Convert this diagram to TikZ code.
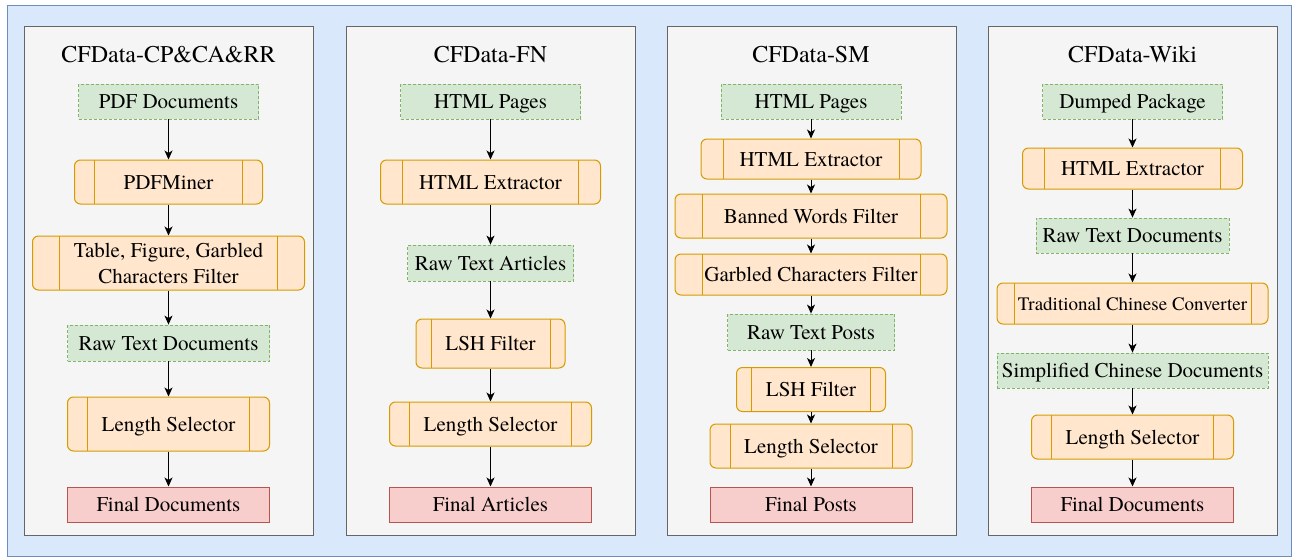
\documentclass[tikz,border=0pt]{standalone}
\usepackage{fontspec}
\setmainfont{texgyretermes-regular.otf}
\usepackage{tikz}
\usetikzlibrary{arrows.meta}
\definecolor{bgfill}{HTML}{DAE8FC}
\definecolor{bgline}{HTML}{6C8EBF}
\definecolor{panelfill}{HTML}{F5F5F5}
\definecolor{panelline}{HTML}{666666}
\definecolor{datafill}{HTML}{D5E8D4}
\definecolor{dataline}{HTML}{82B366}
\definecolor{procfill}{HTML}{FFE6CC}
\definecolor{procline}{HTML}{D79B00}
\definecolor{finalfill}{HTML}{F8CECC}
\definecolor{finalline}{HTML}{B85450}

\begin{document}
\begin{tikzpicture}[x=1pt, y=-1pt,
  box/.style={inner sep=0pt, font=\fontsize{21}{26}\selectfont, text height=18pt, text depth=4pt, align=center},
  title/.style={inner sep=0pt, anchor=base, font=\fontsize{24}{28}\selectfont},
  data/.style={box, draw=dataline, fill=datafill, line width=0.8pt, dash pattern=on 3pt off 2pt},
  proc/.style={box, draw=procline, fill=procfill, line width=1pt, rounded corners=6pt,
    path picture={\draw[procline, line width=1pt]
      ([xshift=#1]path picture bounding box.north west) -- ([xshift=#1]path picture bounding box.south west)
      ([xshift=-#1]path picture bounding box.north east) -- ([xshift=-#1]path picture bounding box.south east);}},
  final/.style={box, draw=finalline, fill=finalfill, line width=1pt, minimum width=202pt, minimum height=35pt},
  panel/.style={draw=panelline, fill=panelfill, line width=1pt},
  flow/.style={-{Stealth[length=9pt, width=8pt, inset=2.5pt]}, line width=1pt, black}]
  \useasboundingbox (0,0) rectangle (1294,557);
  \draw[draw=bgline, fill=bgfill, line width=1pt] (7,5) rectangle (1291,556);

  \draw[panel] (24,26) rectangle (313,535);
  \draw[panel] (346,26) rectangle (635,535);
  \draw[panel] (667,26) rectangle (956,535);
  \draw[panel] (988,26) rectangle (1277,535);

  \node[title] (t1) at (168.5,62.5) {CFData-CP\&CA\&RR};
  \node[data, minimum width=180pt, minimum height=35pt] (p1a) at (168.5,101.5) {PDF Documents};
  \node[proc=20pt, minimum width=188pt, minimum height=44pt] (p1b) at (168.5,182) {PDFMiner};
  \node[proc=27pt, minimum width=272pt, minimum height=54pt, text height={}, text depth={}] (p1c) at (168.5,263) {Table, Figure, Garbled\\Characters Filter};
  \node[data, minimum width=202pt, minimum height=36pt] (p1d) at (168.5,343) {Raw Text Documents};
  \node[proc=20pt, minimum width=202pt, minimum height=54pt] (p1e) at (168.5,424) {Length Selector};
  \node[final] (p1f) at (168.5,504.5) {Final Documents};

  \node[title] (t2) at (490.5,62.5) {CFData-FN};
  \node[data, minimum width=180pt, minimum height=35pt] (p2a) at (490.5,101.5) {HTML Pages};
  \node[proc=22pt, minimum width=220pt, minimum height=44pt] (p2b) at (490.5,182) {HTML Extractor};
  \node[data, minimum width=166pt, minimum height=36pt] (p2c) at (490.5,263) {Raw Text Articles};
  \node[proc=15pt, minimum width=149pt, minimum height=49pt] (p2d) at (490.5,343.5) {LSH Filter};
  \node[proc=20pt, minimum width=202pt, minimum height=44pt] (p2e) at (490.5,424) {Length Selector};
  \node[final] (p2f) at (490.5,504.5) {Final Articles};

  \node[title] (t3) at (811,62.5) {CFData-SM};
  \node[data, minimum width=180pt, minimum height=35pt] (p3a) at (811,101.5) {HTML Pages};
  \node[proc=22pt, minimum width=220pt, minimum height=40pt] (p3b) at (811,159) {HTML Extractor};
  \node[proc=27pt, minimum width=272pt, minimum height=44pt] (p3c) at (811,216) {Banned Words Filter};
  \node[proc=27pt, minimum width=272pt, minimum height=41pt] (p3d) at (811,274.5) {Garbled Characters Filter};
  \node[data, minimum width=167pt, minimum height=36pt] (p3e) at (811,332) {Raw Text Posts};
  \node[proc=15pt, minimum width=149pt, minimum height=44pt] (p3f) at (811,389.5) {LSH Filter};
  \node[proc=20pt, minimum width=202pt, minimum height=44pt] (p3g) at (811,446) {Length Selector};
  \node[final] (p3h) at (811,504.5) {Final Posts};

  \node[title] (t4) at (1132.5,62.5) {CFData-Wiki};
  \node[data, minimum width=180pt, minimum height=35pt] (p4a) at (1132.5,101.5) {Dumped Package};
  \node[proc=22pt, minimum width=220pt, minimum height=41pt] (p4b) at (1132.5,168.5) {HTML Extractor};
  \node[data, minimum width=193pt, minimum height=35pt] (p4c) at (1132.5,235.5) {Raw Text Documents};
  \node[proc=17pt, minimum width=271pt, minimum height=41pt, font=\fontsize{19}{24}\selectfont] (p4d) at (1132.5,303.5) {Traditional Chinese Converter};
  \node[data, minimum width=271pt, minimum height=35pt] (p4e) at (1132.5,370.5) {Simplified Chinese Documents};
  \node[proc=20pt, minimum width=202pt, minimum height=44pt] (p4f) at (1132.5,437) {Length Selector};
  \node[final] (p4g) at (1132.5,504.5) {Final Documents};

  \draw[flow] (p1a.south) -- (p1b.north);
  \draw[flow] (p1b.south) -- (p1c.north);
  \draw[flow] (p1c.south) -- (p1d.north);
  \draw[flow] (p1d.south) -- (p1e.north);
  \draw[flow] (p1e.south) -- (p1f.north);

  \draw[flow] (p2a.south) -- (p2b.north);
  \draw[flow] (p2b.south) -- (p2c.north);
  \draw[flow] (p2c.south) -- (p2d.north);
  \draw[flow] (p2d.south) -- (p2e.north);
  \draw[flow] (p2e.south) -- (p2f.north);

  \draw[flow] (p3a.south) -- (p3b.north);
  \draw[flow] (p3b.south) -- (p3c.north);
  \draw[flow] (p3c.south) -- (p3d.north);
  \draw[flow] (p3d.south) -- (p3e.north);
  \draw[flow] (p3e.south) -- (p3f.north);
  \draw[flow] (p3f.south) -- (p3g.north);
  \draw[flow] (p3g.south) -- (p3h.north);

  \draw[flow] (p4a.south) -- (p4b.north);
  \draw[flow] (p4b.south) -- (p4c.north);
  \draw[flow] (p4c.south) -- (p4d.north);
  \draw[flow] (p4d.south) -- (p4e.north);
  \draw[flow] (p4e.south) -- (p4f.north);
  \draw[flow] (p4f.south) -- (p4g.north);

\end{tikzpicture}
\end{document}
